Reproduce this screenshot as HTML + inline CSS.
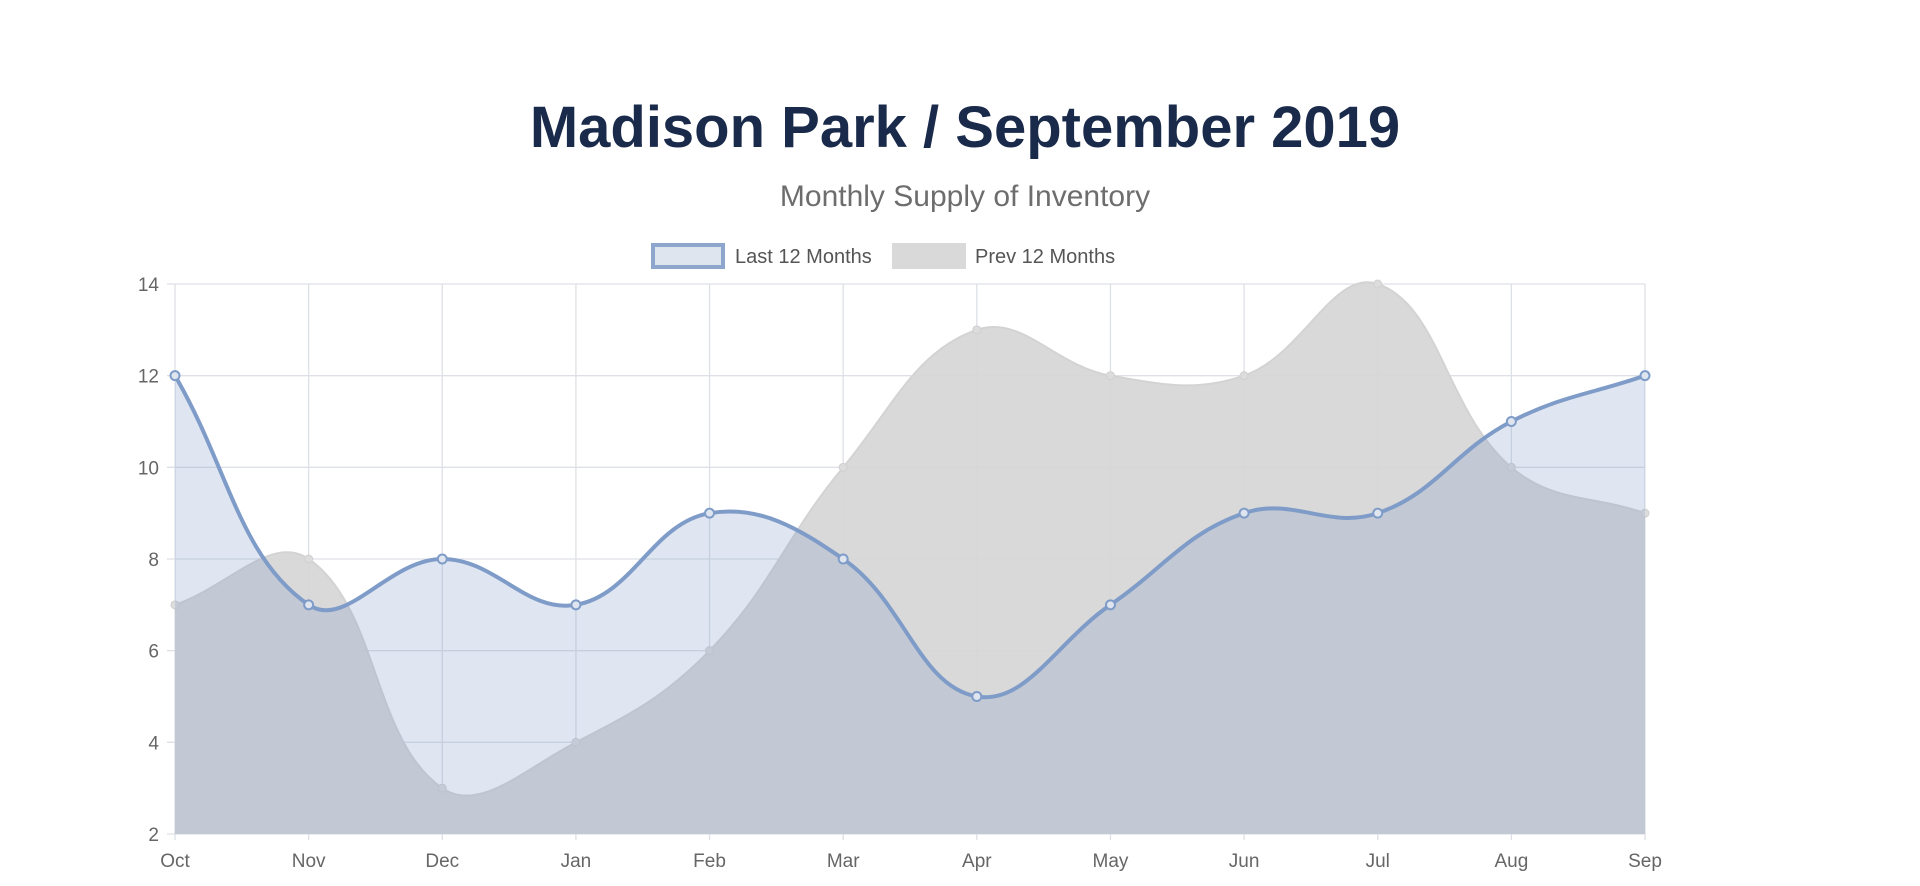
<!DOCTYPE html>
<html><head><meta charset="utf-8"><style>
html,body{margin:0;padding:0;background:#fff;width:1920px;height:886px;overflow:hidden;font-family:"Liberation Sans",sans-serif}
</style></head><body>
<svg id="chart" width="1920" height="886" xmlns="http://www.w3.org/2000/svg">
<text x="965" y="147" text-anchor="middle" font-size="58" font-weight="bold" fill="#1a2a4a" font-family="Liberation Sans, sans-serif">Madison Park / September 2019</text>
<text x="965" y="206" text-anchor="middle" font-size="30" fill="#6d6d6d" font-family="Liberation Sans, sans-serif">Monthly Supply of Inventory</text>
<g>
<rect x="653" y="245" width="70" height="22" fill="#dfe5ef" stroke="#8fa6cc" stroke-width="4"/>
<text x="735" y="263" font-size="20" fill="#555">Last 12 Months</text>
<rect x="892" y="243" width="74" height="26" fill="#d9d9d9"/>
<text x="975" y="263" font-size="20" fill="#555">Prev 12 Months</text>
</g>
<g id="grid"></g><g id="areas"></g><g id="axes"></g>
</svg>
<script>
const months=["Oct","Nov","Dec","Jan","Feb","Mar","Apr","May","Jun","Jul","Aug","Sep"];
const lastValues=[12,7,8,7,9,8,5,7,9,9,11,12];
const prevValues=[7,8,3,4,6,10,13,12,12,14,10,9];
const yTicks=[2,4,6,8,10,12,14];
const NS="http://www.w3.org/2000/svg";
const L=175,R=1645,T=284,B=834,yMin=2,yMax=14;
const xs=i=>L+(R-L)*i/(months.length-1);
const ys=v=>B-(B-T)*(v-yMin)/(yMax-yMin);
function mk(tag,attrs,parent){const e=document.createElementNS(NS,tag);for(const k in attrs)e.setAttribute(k,attrs[k]);parent.appendChild(e);return e;}
const grid=document.getElementById('grid'),areas=document.getElementById('areas'),axes=document.getElementById('axes');
yTicks.forEach(t=>{
 const g=mk('line',{x1:L-8,x2:R,y1:ys(t),y2:ys(t),stroke:'#dde0e6','stroke-width':1.3},grid);
 
 
 const tx=mk('text',{x:L-16,y:ys(t)+7,'text-anchor':'end','font-size':19,fill:'#666'},axes);
 tx.textContent=t;
 
 
});
months.forEach((m,i)=>{
 const g=mk('line',{x1:xs(i),x2:xs(i),y1:T,y2:B+6,stroke:'#dde0e6','stroke-width':1.3},grid);
 
 
 const tx=mk('text',{x:xs(i),y:867,'text-anchor':'middle','font-size':19,fill:'#666'},axes);
 tx.textContent=m;
 
 
});
function curve(vals){
 const p=vals.map((v,i)=>({x:xs(i),y:ys(v)}));const t=0.4;
 let d=`M${p[0].x},${p[0].y}`;
 const cps=p.map((c,i)=>{const a=p[Math.max(i-1,0)],b=p[Math.min(i+1,p.length-1)];
  const d01=Math.hypot(c.x-a.x,c.y-a.y),d12=Math.hypot(b.x-c.x,b.y-c.y);
  let fa=d01/(d01+d12)||0,fb=d12/(d01+d12)||0;fa*=t;fb*=t;
  return {px:c.x-fa*(b.x-a.x),py:c.y-fa*(b.y-a.y),nx:c.x+fb*(b.x-a.x),ny:c.y+fb*(b.y-a.y)};});
 for(let i=1;i<p.length;i++){d+=` C${cps[i-1].nx},${cps[i-1].ny} ${cps[i].px},${cps[i].py} ${p[i].x},${p[i].y}`;}
 return {d,p};
}
const pc=curve(prevValues);
const pa=mk('path',{d:pc.d+` L${R},${B} L${L},${B} Z`,fill:'rgb(214,214,214)','fill-opacity':0.92},areas);


const pl=mk('path',{d:pc.d,fill:'none',stroke:'#d3d3d3','stroke-width':2},areas);


pc.p.forEach(q=>{const c=mk('circle',{cx:q.x,cy:q.y,r:4,fill:'#dcdcdc',stroke:'#d0d0d0'},areas);
 
 });
const lc=curve(lastValues);
const la=mk('path',{d:lc.d+` L${R},${B} L${L},${B} Z`,fill:'rgba(127,156,201,0.25)'},areas);


const ll=mk('path',{d:lc.d,fill:'none',stroke:'#7f9cc9','stroke-width':4},areas);


lc.p.forEach(q=>{const c=mk('circle',{cx:q.x,cy:q.y,r:4.5,fill:'#dfe5ef',stroke:'#7f9cc9','stroke-width':2},areas);
 
 });
</script>
</body></html>
